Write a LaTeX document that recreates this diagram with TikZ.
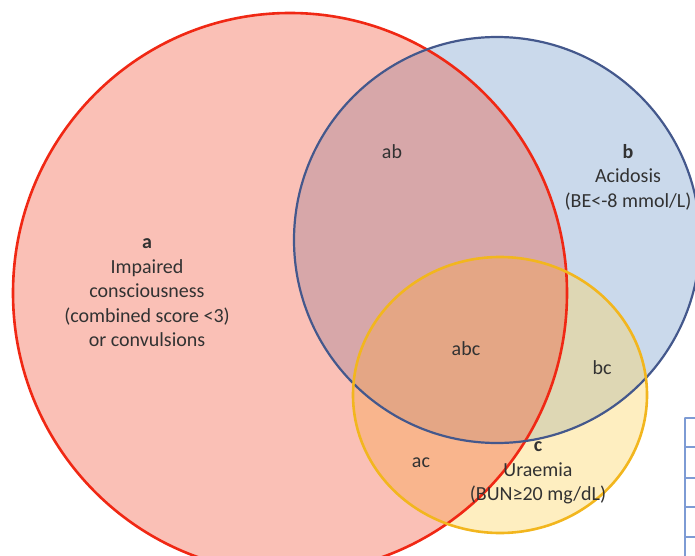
\documentclass[tikz,border=0pt]{standalone}
\usepackage{fontspec}
\setmainfont{Carlito}
\usetikzlibrary{positioning}

\begin{document}
\begin{tikzpicture}
[x=1pt,y=-1pt,line cap=round,
% Styles
set line/.style={line width=2.6pt},
set text/.style={align=center,text=textcolor,inner sep=0pt,
  font=\fontsize{20}{24.5}\selectfont},
region text/.style={text=textcolor,inner sep=0pt,
  font=\fontsize{20}{24}\selectfont},
table line/.style={line width=1.2pt,draw=tablecolor}]
% Colors
\definecolor{afill}{RGB}{241,75,47}
\definecolor{bfill}{RGB}{79,129,189}
\definecolor{cfill}{RGB}{252,212,98}
\definecolor{acolor}{RGB}{240,40,20}
\definecolor{bcolor}{RGB}{68,88,140}
\definecolor{ccolor}{RGB}{242,182,30}
\definecolor{textcolor}{RGB}{50,50,50}
\definecolor{tablecolor}{RGB}{125,155,212}
% Frame
\useasboundingbox (0,0) rectangle (695,556);
\begin{scope}
\clip (0,0) rectangle (695,556);
% The fills
\fill[bfill,fill opacity=0.3] (497,240) circle (203);
\fill[cfill,fill opacity=0.4] (500,395) ellipse (147 and 138);
\fill[afill,fill opacity=0.35] (290,293) ellipse (277 and 280);
% The outlines
\draw[set line,acolor] (290,293) ellipse (277 and 280);
\draw[set line,bcolor,line width=2.2pt] (497,240) circle (203);
\draw[set line,ccolor] (500,395) ellipse (147 and 138);
% Part of a table at the edge
\draw[table line] (685,418) -- (685,556);
\foreach \y in {418,447,478,507,537}
\draw[table line] (685,\y) -- (695,\y);
\end{scope}
% Set labels
\node[set text] (a text) at (147,293)
{\textbf{a}\\Impaired\\consciousness\\(combined score <3)\\or convulsions};
\node[set text] (b text) at (628,177)
{\textbf{b}\\Acidosis\\(BE<-8 mmol/L)};
\node[set text] (c text) at (538,473)
{\textbf{c}\\Uraemia\\(BUN≥20 mg/dL)};
% Region labels
\node[region text] (ab) at (392,152) {ab};
\node[region text] (abc) at (466,349) {abc};
\node[region text] (bc) at (602,368) {bc};
\node[region text] (ac) at (421,463) {ac};
\end{tikzpicture}
\end{document}
